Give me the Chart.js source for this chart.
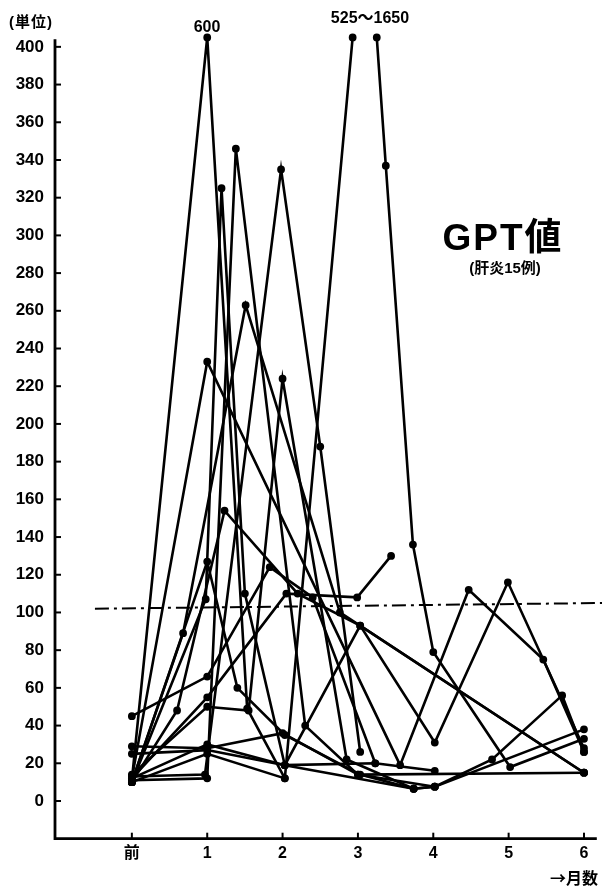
<!DOCTYPE html>
<html><head><meta charset="utf-8">
<script src="https://cdn.jsdelivr.net/npm/chart.js@4.4.0/dist/chart.umd.min.js"></script>
<style>
html,body{margin:0;padding:0;background:#fff;}
#wrap{position:relative;width:602px;height:886px;overflow:hidden;}
canvas{position:absolute;left:0;top:0;}
.t{position:absolute;color:#000;white-space:nowrap;font-family:'Liberation Sans','Noto Sans CJK JP',sans-serif;line-height:1;}
</style></head><body>
<div id="wrap">
<canvas id="c" width="602" height="886"></canvas>
<div class="t" style="left:9px;top:14px;font-size:15px;font-weight:bold;letter-spacing:1px;">(単位)</div>
<div class="t" style="left:207px;top:19px;font-size:16px;font-weight:bold;transform:translateX(-50%);">600</div>
<div class="t" style="left:370px;top:10px;font-size:16px;font-weight:bold;transform:translateX(-50%);">525～1650</div>
<div class="t" style="left:503px;top:219px;font-size:37px;font-weight:bold;letter-spacing:2px;transform:translateX(-50%);">GPT値</div>
<div class="t" style="left:505px;top:260px;font-size:15px;font-weight:bold;transform:translateX(-50%);">(肝炎15例)</div>
<div class="t" style="left:550px;top:869px;font-size:16px;font-weight:bold;font-family:'Noto Sans CJK JP',sans-serif;">→月数</div>
</div>
<script>
// axis ticks / categories
const monthTicks = [0, 1, 2, 3, 4, 5, 6];
const monthLabels = ['前', '1', '2', '3', '4', '5', '6'];
const valueTicks = [0, 20, 40, 60, 80, 100, 120, 140, 160, 180, 200, 220, 240, 260, 280, 300, 320, 340, 360, 380, 400];

// 15 cases: [month, GPT value]; 405 = off-scale value (600 / 525 / 1650)
const case01 = [[0, 11], [1, 405], [1.53, 49], [2.03, 12]];
const case02 = [[0, 10], [0.98, 107], [1.19, 325], [1.5, 110], [2.03, 19], [3.23, 20], [4.02, 16]];
const case03 = [[0, 11], [1, 12], [1.38, 346], [2.3, 40], [3, 14], [6, 15]];
const case04 = [[0, 13], [0.97, 14], [1.98, 335], [2.5, 188], [3.03, 26]];
const case05 = [[0, 10], [0.68, 89], [1.51, 263], [2.76, 100], [6, 15]];
const case06 = [[0, 12], [1, 233], [3.56, 19], [4.47, 112], [5.46, 75], [6, 26]];
const case07 = [[0, 14], [1, 50], [1.55, 48], [2, 224], [2.85, 22], [3.74, 6.5], [4.02, 7.6]];
const case08 = [[0, 10], [1, 25], [2.03, 12], [2.93, 405], [3.1, null], [3.25, 405], [3.37, 337], [3.73, 136], [4, 79], [5.02, 18], [6, 33]];
const case09 = [[0, 12], [1, 30], [2.03, 19], [3.03, 93], [4.02, 31], [4.99, 116], [6, 28]];
const case10 = [[0, 12], [1, 55], [2.05, 110], [2.99, 108], [3.44, 130]];
const case11 = [[0, 10], [0.6, 48], [1.23, 154], [2.2, 110], [3.03, 93], [6, 15]];
const case12 = [[0, 10], [1, 127], [1.4, 60], [2.03, 35], [3.03, 14], [3.74, 6.5]];
const case13 = [[0, 45], [1, 66], [1.83, 124], [2.4, 108], [3.23, 20]];
const case14 = [[0, 29], [1, 28], [2, 36], [3, 14], [4.02, 7.6], [6, 38]];
const case15 = [[0, 25], [1, 27], [2.03, 19], [3.74, 6.5], [4.02, 7.6], [4.78, 22], [5.71, 56], [6, 26]];
const normalLimit = [[-0.49, 102], [6.24, 105]];

const cases = [case01, case02, case03, case04, case05, case06, case07, case08, case09, case10, case11, case12, case13, case14, case15];
const FONT = "'Liberation Sans','Noto Sans CJK JP',sans-serif";

const datasets = cases.map((c, i) => ({
  label: 'case' + (i + 1),
  data: c.map(p => ({x: p[0], y: p[1]})),
  borderColor: '#000', backgroundColor: '#000',
  borderWidth: 2.6, pointRadius: 2.6, pointHoverRadius: 2.6,
  tension: 0, spanGaps: false, clip: false
}));
datasets.push({
  label: 'normal',
  data: normalLimit.map(p => ({x: p[0], y: p[1]})),
  borderColor: '#000', borderWidth: 2, borderDash: [14, 5, 3, 5],
  pointRadius: 0, clip: false
});

const axisDecor = {
  id: 'axisDecor',
  afterDraw(chart) {
    const ctx = chart.ctx, xs = chart.scales.x, ys = chart.scales.y;
    const left = chart.chartArea.left, bottom = chart.chartArea.bottom, right = chart.chartArea.right;
    ctx.save();
    ctx.strokeStyle = '#000';
    ctx.lineWidth = 2.8;
    ctx.beginPath();
    ctx.moveTo(left, ys.getPixelForValue(404));
    ctx.lineTo(left, bottom);
    ctx.lineTo(right, bottom);
    ctx.stroke();
    ctx.lineWidth = 2;
    valueTicks.forEach(v => {
      const py = ys.getPixelForValue(v);
      ctx.beginPath(); ctx.moveTo(left, py); ctx.lineTo(left + 6, py); ctx.stroke();
    });
    monthTicks.forEach(m => {
      const px = xs.getPixelForValue(m);
      ctx.beginPath(); ctx.moveTo(px, bottom); ctx.lineTo(px, bottom - 6); ctx.stroke();
    });
    ctx.restore();
  }
};

new Chart(document.getElementById('c'), {
  type: 'line',
  data: {datasets},
  plugins: [axisDecor],
  options: {
    responsive: false, animation: false, devicePixelRatio: 1,
    layout: {padding: {top: 28, right: 5, left: 0, bottom: 0}},
    plugins: {legend: {display: false}, tooltip: {enabled: false}},
    scales: {
      x: {
        type: 'linear', min: -1.02, max: 6.17,
        grid: {display: false, drawTicks: false}, border: {display: false},
        afterBuildTicks: s => { s.ticks = monthTicks.map(v => ({value: v})); },
        afterFit: s => { s.height = 47.3; },
        ticks: {
          padding: 5, color: '#000', maxRotation: 0, autoSkip: false,
          font: {family: FONT, size: 16, weight: 'bold'},
          callback: v => monthLabels[monthTicks.indexOf(v)]
        }
      },
      y: {
        min: -20, max: 410,
        grid: {display: false, drawTicks: false}, border: {display: false},
        afterBuildTicks: s => { s.ticks = valueTicks.map(v => ({value: v})); },
        afterFit: s => { s.width = 55; },
        ticks: {
          padding: 11, color: '#000', autoSkip: false,
          font: {family: FONT, size: 17, weight: 'bold'},
          callback: v => String(v)
        }
      }
    }
  }
});
</script>
</body></html>
